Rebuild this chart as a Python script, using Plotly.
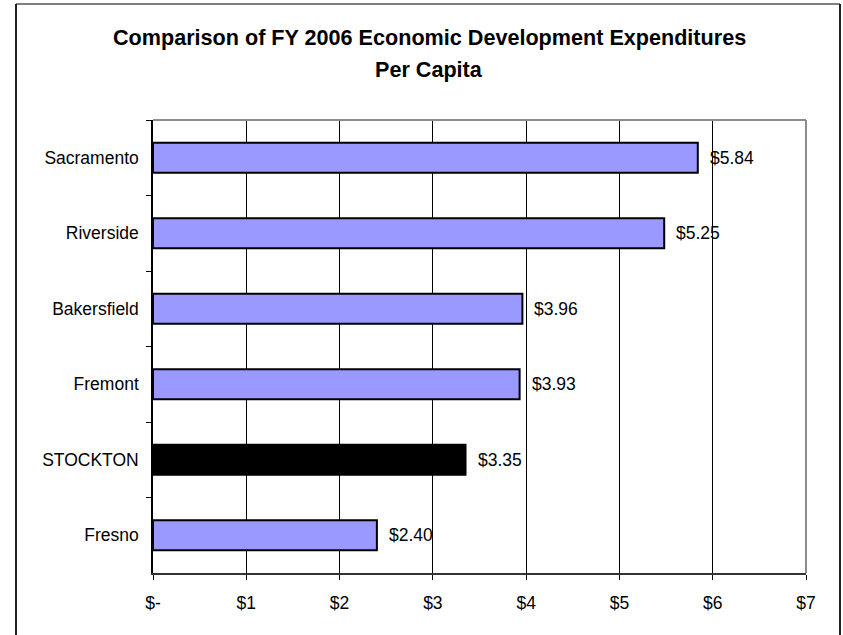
import plotly.graph_objects as go

cities = ["Sacramento", "Riverside", "Bakersfield", "Fremont", "STOCKTON", "Fresno"]
# bar lengths as drawn in the picture
values = [5.84, 5.48, 3.96, 3.93, 3.35, 2.40]
# data labels as printed in the picture
labels = ["$5.84", "$5.25", "$3.96", "$3.93", "$3.35", "$2.40"]
x_tickvals = [0, 1, 2, 3, 4, 5, 6, 7]
x_ticktext = ["$-", "$1", "$2", "$3", "$4", "$5", "$6", "$7"]
title_lines = ["Comparison of FY 2006 Economic Development Expenditures", "Per Capita"]

W, H = 843, 635
L, R, T, B = 153, 806, 120, 573
pw, ph = R - L, B - T

def px_x(p):
    return (p - L) / pw

def px_y(p):
    return (B - p) / ph

FONT = "Liberation Sans, Arial, sans-serif"
colors = ["#000000" if c == "STOCKTON" else "#9999FF" for c in cities]

fig = go.Figure()
fig.add_trace(go.Bar(
    x=values, y=cities, orientation="h",
    marker=dict(color=colors, line=dict(color="black", width=2)),
    width=0.4, showlegend=False, hoverinfo="skip",
))

annotations = []
for c, v, lab in zip(cities, values, labels):
    annotations.append(dict(
        x=v, y=c, xref="x", yref="y", text=lab, showarrow=False,
        xanchor="left", yanchor="middle", xshift=10,
        font=dict(family=FONT, size=17.5, color="black"),
    ))
title_y = [37.5, 69]
for t, yy in zip(title_lines, title_y):
    annotations.append(dict(
        x=px_x(429), y=px_y(yy), xref="paper", yref="paper", text=f"<b>{t}</b>",
        showarrow=False, xanchor="center", yanchor="middle",
        font=dict(family=FONT, size=21.6, color="black"),
    ))

shapes = [
    dict(type="line", xref="paper", yref="paper", x0=0, x1=1, y0=1, y1=1,
         line=dict(color="#8c8c8c", width=2)),
    dict(type="line", xref="paper", yref="paper", x0=1, x1=1, y0=0, y1=1,
         line=dict(color="#8c8c8c", width=2)),
    dict(type="line", xref="paper", yref="paper", x0=px_x(16), x1=px_x(840), y0=px_y(4), y1=px_y(4),
         line=dict(color="#555555", width=1.5)),
    dict(type="line", xref="paper", yref="paper", x0=px_x(16), x1=px_x(16), y0=px_y(4), y1=px_y(640),
         line=dict(color="#222222", width=2)),
    dict(type="line", xref="paper", yref="paper", x0=px_x(840), x1=px_x(840), y0=px_y(4), y1=px_y(640),
         line=dict(color="#222222", width=2)),
]

fig.update_layout(
    width=W, height=H,
    margin=dict(l=L, r=W - R, t=T, b=H - B, pad=0),
    paper_bgcolor="white", plot_bgcolor="white",
    font=dict(family=FONT, size=17.5, color="black"),
    annotations=annotations, shapes=shapes,
    bargap=0.6,
)
fig.update_xaxes(
    range=[0, 7], tickvals=x_tickvals, ticktext=x_ticktext,
    showgrid=True, gridcolor="black", gridwidth=1, zeroline=False,
    showline=True, linecolor="#333333", linewidth=2,
    ticks="outside", ticklen=5, tickcolor="black", tickwidth=1,
    ticklabelstandoff=8, tickfont=dict(size=17.5),
)
fig.update_yaxes(
    autorange="reversed", showgrid=False, zeroline=False,
    showline=True, linecolor="black", linewidth=1.5,
    ticks="outside", tickson="boundaries", ticklen=5, tickcolor="black", tickwidth=1,
    ticklabelstandoff=9, tickfont=dict(size=17.5),
)

fig.write_html("out.html")
